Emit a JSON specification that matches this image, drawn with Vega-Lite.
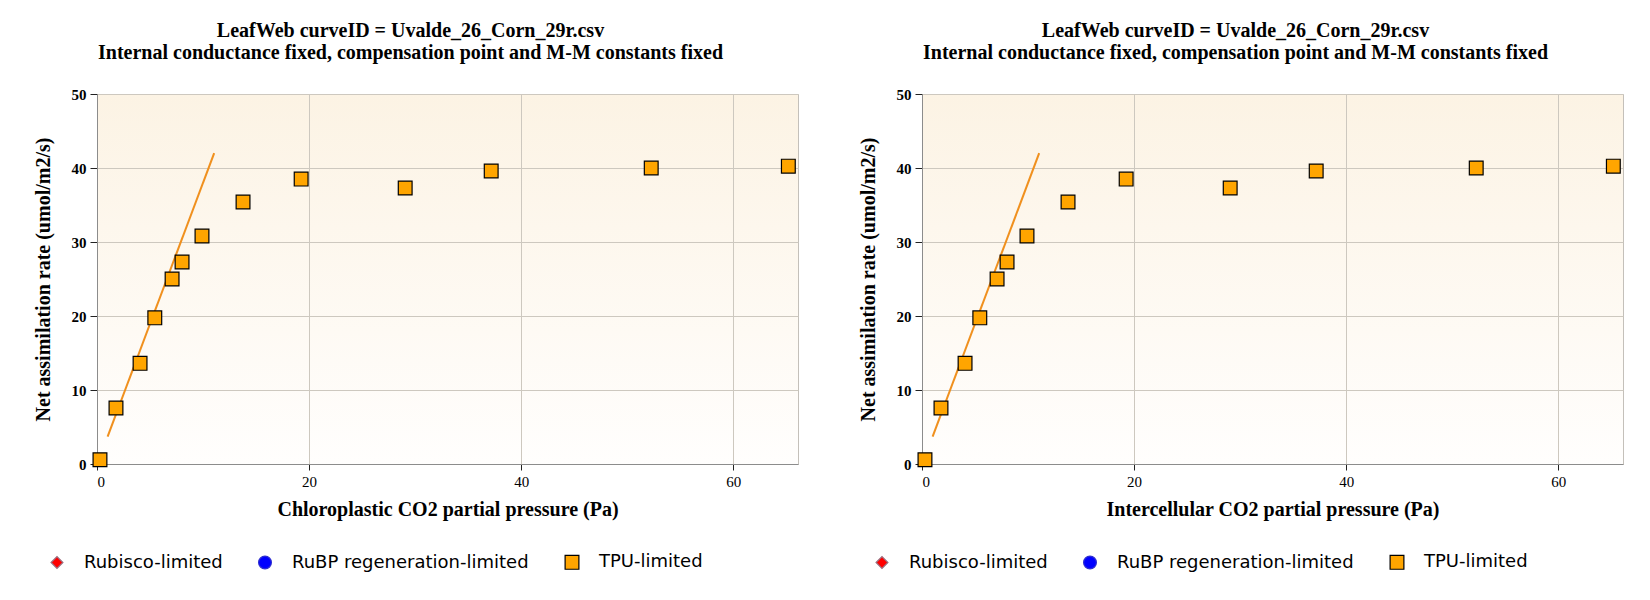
{
  "$schema": "https://vega.github.io/schema/vega-lite/v6.json",
  "background": "white",
  "padding": {"left": 32, "top": 20, "right": 26, "bottom": 28},
  "datasets": {
    "points": [
      {"ci": 0.28, "a": 0.58, "limitation": "TPU-limited"},
      {"ci": 1.79, "a": 7.56, "limitation": "TPU-limited"},
      {"ci": 4.06, "a": 13.6, "limitation": "TPU-limited"},
      {"ci": 5.45, "a": 19.75, "limitation": "TPU-limited"},
      {"ci": 7.08, "a": 25.0, "limitation": "TPU-limited"},
      {"ci": 8.02, "a": 27.3, "limitation": "TPU-limited"},
      {"ci": 9.9, "a": 30.8, "limitation": "TPU-limited"},
      {"ci": 13.77, "a": 35.4, "limitation": "TPU-limited"},
      {"ci": 19.25, "a": 38.5, "limitation": "TPU-limited"},
      {"ci": 29.06, "a": 37.3, "limitation": "TPU-limited"},
      {"ci": 37.17, "a": 39.6, "limitation": "TPU-limited"},
      {"ci": 52.26, "a": 40.0, "limitation": "TPU-limited"},
      {"ci": 65.19, "a": 40.25, "limitation": "TPU-limited"}
    ],
    "rubisco": [
      {"ci": 1.0, "a": 3.7},
      {"ci": 11.05, "a": 42.0}
    ]
  },
  "spacing": 58,
  "hconcat": [
    {
      "title": {
        "text": ["LeafWeb curveID = Uvalde_26_Corn_29r.csv", "Internal conductance fixed, compensation point and M-M constants fixed"],
        "frame": "bounds",
        "anchor": "middle",
        "dx": -5,
        "offset": 24
      },
      "width": 701,
      "height": 370,
      "view": {
        "fill": {"gradient": "linear", "x1": 0, "y1": 0, "x2": 0, "y2": 1, "stops": [{"offset": 0, "color": "#fcf3e4"}, {"offset": 1, "color": "#fffefd"}]},
        "stroke": "#c4c0ba"
      },
      "layer": [
        {
          "data": {"name": "rubisco"},
          "mark": {"type": "line", "color": "#f0901e", "strokeWidth": 2},
          "encoding": {
            "x": {"field": "ci", "type": "quantitative", "scale": {"domain": [0, 66.1], "nice": false, "zero": false}, "axis": {"title": "Chloroplastic CO2 partial pressure (Pa)", "values": [0, 20, 40, 60]}},
            "y": {"field": "a", "type": "quantitative", "scale": {"domain": [0, 50], "nice": false}, "axis": {"title": "Net assimilation rate (umol/m2/s)", "values": [0, 10, 20, 30, 40, 50]}}
          }
        },
        {
          "data": {"name": "points"},
          "mark": {"type": "point", "filled": true, "opacity": 1, "strokeWidth": 1.2},
          "encoding": {
            "x": {"field": "ci", "type": "quantitative"},
            "y": {"field": "a", "type": "quantitative"},
            "color": {
              "field": "limitation", "type": "nominal",
              "scale": {"domain": ["Rubisco-limited", "RuBP regeneration-limited", "TPU-limited"], "range": ["#ff0000", "#0000ff", "#ffa500"]},
              "legend": {"orient": "none", "legendX": -49, "legendY": 459, "direction": "horizontal", "title": null}
            },
            "shape": {
              "field": "limitation", "type": "nominal",
              "scale": {"domain": ["Rubisco-limited", "RuBP regeneration-limited", "TPU-limited"], "range": ["diamond", "circle", "square"]},
              "legend": {"orient": "none", "legendX": -49, "legendY": 459, "direction": "horizontal", "title": null}
            },
            "size": {
              "field": "limitation", "type": "nominal",
              "scale": {"domain": ["Rubisco-limited", "RuBP regeneration-limited", "TPU-limited"], "range": [140, 190, 196]},
              "legend": {"orient": "none", "legendX": -49, "legendY": 459, "direction": "horizontal", "title": null}
            },
            "stroke": {
              "field": "limitation", "type": "nominal",
              "scale": {"domain": ["Rubisco-limited", "RuBP regeneration-limited", "TPU-limited"], "range": ["#9a7080", "#3030d0", "#000000"]},
              "legend": {"orient": "none", "legendX": -49, "legendY": 459, "direction": "horizontal", "title": null}
            }
          }
        }
      ]
    },
    {
      "title": {
        "text": ["LeafWeb curveID = Uvalde_26_Corn_29r.csv", "Internal conductance fixed, compensation point and M-M constants fixed"],
        "frame": "bounds",
        "anchor": "middle",
        "dx": -5,
        "offset": 24
      },
      "width": 701,
      "height": 370,
      "view": {
        "fill": {"gradient": "linear", "x1": 0, "y1": 0, "x2": 0, "y2": 1, "stops": [{"offset": 0, "color": "#fcf3e4"}, {"offset": 1, "color": "#fffefd"}]},
        "stroke": "#c4c0ba"
      },
      "layer": [
        {
          "data": {"name": "rubisco"},
          "mark": {"type": "line", "color": "#f0901e", "strokeWidth": 2},
          "encoding": {
            "x": {"field": "ci", "type": "quantitative", "scale": {"domain": [0, 66.1], "nice": false, "zero": false}, "axis": {"title": "Intercellular CO2 partial pressure (Pa)", "values": [0, 20, 40, 60]}},
            "y": {"field": "a", "type": "quantitative", "scale": {"domain": [0, 50], "nice": false}, "axis": {"title": "Net assimilation rate (umol/m2/s)", "values": [0, 10, 20, 30, 40, 50]}}
          }
        },
        {
          "data": {"name": "points"},
          "mark": {"type": "point", "filled": true, "opacity": 1, "strokeWidth": 1.2},
          "encoding": {
            "x": {"field": "ci", "type": "quantitative"},
            "y": {"field": "a", "type": "quantitative"},
            "color": {
              "field": "limitation", "type": "nominal",
              "scale": {"domain": ["Rubisco-limited", "RuBP regeneration-limited", "TPU-limited"], "range": ["#ff0000", "#0000ff", "#ffa500"]},
              "legend": {"orient": "none", "legendX": -49, "legendY": 459, "direction": "horizontal", "title": null}
            },
            "shape": {
              "field": "limitation", "type": "nominal",
              "scale": {"domain": ["Rubisco-limited", "RuBP regeneration-limited", "TPU-limited"], "range": ["diamond", "circle", "square"]},
              "legend": {"orient": "none", "legendX": -49, "legendY": 459, "direction": "horizontal", "title": null}
            },
            "size": {
              "field": "limitation", "type": "nominal",
              "scale": {"domain": ["Rubisco-limited", "RuBP regeneration-limited", "TPU-limited"], "range": [140, 190, 196]},
              "legend": {"orient": "none", "legendX": -49, "legendY": 459, "direction": "horizontal", "title": null}
            },
            "stroke": {
              "field": "limitation", "type": "nominal",
              "scale": {"domain": ["Rubisco-limited", "RuBP regeneration-limited", "TPU-limited"], "range": ["#9a7080", "#3030d0", "#000000"]},
              "legend": {"orient": "none", "legendX": -49, "legendY": 459, "direction": "horizontal", "title": null}
            }
          }
        }
      ]
    }
  ],
  "resolve": {"scale": {"color": "independent", "shape": "independent", "size": "independent", "stroke": "independent"}, "legend": {"color": "independent", "shape": "independent", "size": "independent", "stroke": "independent"}},
  "config": {
    "title": {"font": "Liberation Serif", "fontSize": 20, "fontWeight": "bold", "color": "black", "lineHeight": 22},
    "axis": {
      "labelFont": "Liberation Serif",
      "labelFontSize": 15,
      "labelColor": "black",
      "titleFont": "Liberation Serif",
      "titleFontSize": 20,
      "titleFontWeight": "bold",
      "titleColor": "black",
      "gridColor": "#cdc8bf",
      "domainColor": "#8c8c8c",
      "tickColor": "#222222",
      "tickSize": 6
    },
    "axisX": {"labelPadding": 4, "titlePadding": 10},
    "axisY": {"labelFontWeight": "bold", "tickSize": 7, "labelPadding": 4, "titlePadding": 18},
    "legend": {
      "labelFont": "DejaVu Sans",
      "labelFontSize": 18,
      "labelColor": "black",
      "labelLimit": 400,
      "labelOffset": 18,
      "columnPadding": 33,
      "symbolStrokeWidth": 1.2
    }
  }
}
